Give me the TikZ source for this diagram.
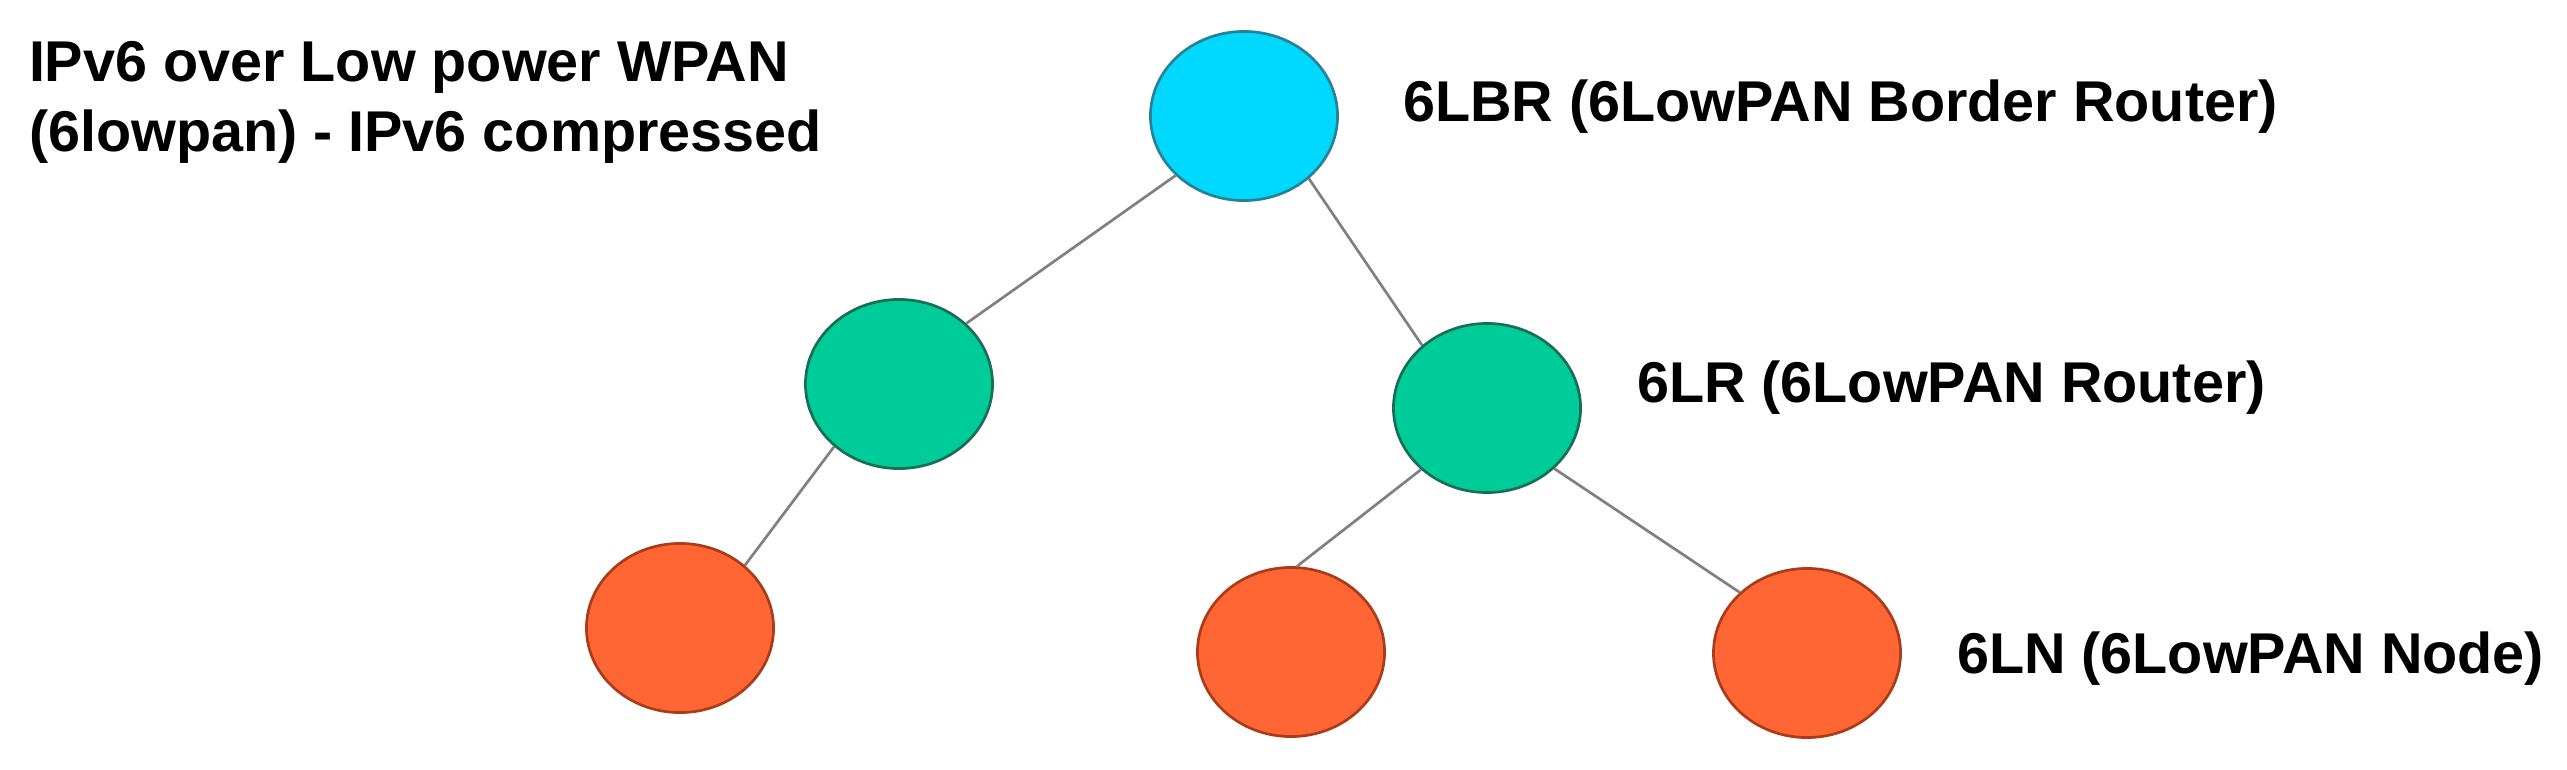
\documentclass[tikz,border=0pt]{standalone}
\usepackage{fontspec}
\setmainfont{Liberation Sans}
\usetikzlibrary{shapes.geometric}
\definecolor{cyanfill}{RGB}{0,217,255}
\definecolor{greenfill}{RGB}{0,204,153}
\definecolor{orangefill}{RGB}{255,102,51}
\definecolor{cyanline}{RGB}{40,130,150}
\definecolor{greenline}{RGB}{25,110,85}
\definecolor{orangeline}{RGB}{170,60,25}
\definecolor{linkgray}{RGB}{128,128,128}
\tikzset{
  blob/.style={ellipse, minimum width=1.87cm, minimum height=1.69cm, inner sep=0pt, line width=0.027cm},
  brnode/.style={blob, fill=cyanfill, draw=cyanline},
  rnode/.style={blob, fill=greenfill, draw=greenline},
  lnode/.style={blob, fill=orangefill, draw=orangeline},
  link/.style={draw=linkgray, line width=0.027cm},
  lbl/.style={anchor=base west, inner sep=0pt, outer sep=0pt, font=\fontsize{16.36pt}{19.9pt}\selectfont\bfseries}
}
\begin{document}
\begin{tikzpicture}[x=0.01cm, y=-0.01cm]
\useasboundingbox (0,0) rectangle (2567,770);
% nodes
\node[brnode] (top) at (1244,116) {};
\node[rnode] (g1) at (899,384) {};
\node[rnode] (g2) at (1487,408) {};
\node[lnode] (r1) at (680,628) {};
\node[lnode] (r2) at (1291,652) {};
\node[lnode] (r3) at (1807,653) {};
% connectors
\draw[link] (top.221) -- (g1.42);
\draw[link] (top.316) -- (g2.136);
\draw[link] (g1.224) -- (r1.44);
\draw[link] (g2.223) -- (r2.86);
\draw[link] (g2.318) -- (r3.138);
% labels
\node[lbl] (t1) at (29,82) {IPv6 over Low power WPAN};
\node[lbl] (t2) at (29,152) {(6lowpan) - IPv6 compressed};
\node[lbl] (lbr) at (1403,122) {6LBR (6LowPAN Border Router)};
\node[lbl] (lr) at (1637,402) {6LR (6LowPAN Router)};
\node[lbl] (ln) at (1957,673) {6LN (6LowPAN Node)};
\end{tikzpicture}
\end{document}
